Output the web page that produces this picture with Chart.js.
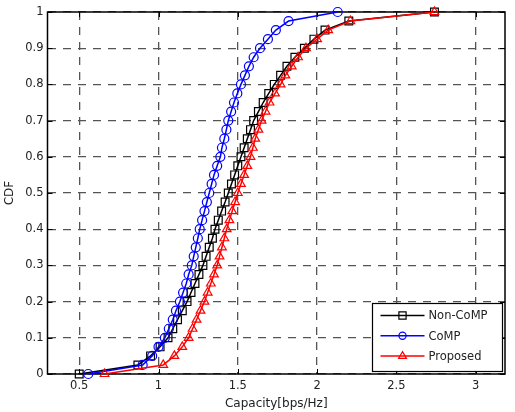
<!DOCTYPE html>
<html>
<head>
<meta charset="utf-8">
<script src="https://cdn.jsdelivr.net/npm/chart.js@4"></script>
<style>
  body { margin: 0; background: white; }
</style>
</head>
<body>
<canvas id="cdfChart" width="515" height="412"></canvas>
<script>
// cdf levels (same for every curve, 41 points)
const cdfLevels = [0, 0.025, 0.05, 0.075, 0.1, 0.125, 0.15, 0.175, 0.2, 0.225, 0.25, 0.275, 0.3, 0.325, 0.35, 0.375,
    0.4, 0.425, 0.45, 0.475, 0.5, 0.525, 0.55, 0.575, 0.6, 0.625, 0.65, 0.675, 0.7, 0.725, 0.75, 0.775,
    0.8, 0.825, 0.85, 0.875, 0.9, 0.925, 0.95, 0.975, 1];

// capacity values
const nonComp = [0.50, 0.87, 0.95, 1.01, 1.06, 1.09, 1.12, 1.15, 1.18, 1.205, 1.23, 1.255, 1.28, 1.30, 1.32, 1.34,
    1.356, 1.377, 1.398, 1.42, 1.44, 1.46, 1.48, 1.50, 1.52, 1.54, 1.56, 1.58, 1.60, 1.63, 1.66, 1.695,
    1.73, 1.77, 1.81, 1.86, 1.92, 1.98, 2.05, 2.20, 2.74];
const comp = [0.557, 0.90, 0.96, 1.00, 1.04, 1.065, 1.09, 1.11, 1.135, 1.155, 1.175, 1.19, 1.21, 1.222, 1.235, 1.248,
    1.26, 1.275, 1.29, 1.305, 1.32, 1.335, 1.35, 1.37, 1.39, 1.40, 1.415, 1.428, 1.44, 1.458, 1.476, 1.497,
    1.52, 1.545, 1.57, 1.60, 1.64, 1.69, 1.74, 1.82, 2.13];
const proposed = [0.66, 1.03, 1.10, 1.15, 1.19, 1.215, 1.24, 1.265, 1.29, 1.31, 1.33, 1.35, 1.37, 1.385, 1.40, 1.415,
    1.43, 1.447, 1.465, 1.483, 1.50, 1.52, 1.54, 1.56, 1.58, 1.595, 1.61, 1.63, 1.65, 1.675, 1.70, 1.735,
    1.77, 1.80, 1.84, 1.88, 1.93, 2.00, 2.07, 2.21, 2.74];

const seriesNames = ['Non-CoMP', 'CoMP', 'Proposed'];
const xTicks = [0.5, 1, 1.5, 2, 2.5, 3];
const yTicks = [0, 0.1, 0.2, 0.3, 0.4, 0.5, 0.6, 0.7, 0.8, 0.9, 1];

const textColor = '#222';
const fontName = '"DejaVu Sans", sans-serif';

function toPoints(xs) {
    return xs.map((x, i) => ({ x: x, y: cdfLevels[i] }));
}

// little marker drawer for the legend
function marker(ctx, style, x, y, r) {
    ctx.beginPath();
    if (style === 'rect') {
        ctx.rect(x - r, y - r, 2 * r, 2 * r);
    } else if (style === 'circle') {
        ctx.arc(x, y, r, 0, Math.PI * 2);
    } else {
        ctx.moveTo(x, y - r);
        ctx.lineTo(x + r * 0.87, y + r * 0.5);
        ctx.lineTo(x - r * 0.87, y + r * 0.5);
        ctx.closePath();
    }
    ctx.stroke();
}

// matlab style box, inward ticks and legend
const matlabFrame = {
    id: 'matlabFrame',
    beforeDatasetsDraw(chart) {
        const ctx = chart.ctx;
        const a = chart.chartArea;
        const xs = chart.scales.x, ys = chart.scales.y;
        ctx.save();
        ctx.strokeStyle = '#000';
        ctx.lineWidth = 1;
        ctx.beginPath();
        xTicks.forEach(v => {
            const px = Math.round(xs.getPixelForValue(v)) + 0.5;
            ctx.moveTo(px, a.bottom); ctx.lineTo(px, a.bottom - 5);
            ctx.moveTo(px, a.top); ctx.lineTo(px, a.top + 5);
        });
        yTicks.forEach(v => {
            const py = Math.round(ys.getPixelForValue(v)) + 0.5;
            ctx.moveTo(a.left, py); ctx.lineTo(a.left + 5, py);
            ctx.moveTo(a.right, py); ctx.lineTo(a.right - 5, py);
        });
        ctx.stroke();
        ctx.lineWidth = 1.5;
        ctx.strokeRect(a.left, a.top, a.right - a.left, a.bottom - a.top);
        ctx.restore();
    },
    afterDraw(chart) {
        const ctx = chart.ctx;
        const a = chart.chartArea;
        const w = 130, h = 68;
        const bx = a.right - 2.5 - w, by = a.bottom - 2.5 - h;
        ctx.save();
        ctx.fillStyle = 'white';
        ctx.fillRect(bx, by, w, h);
        ctx.strokeStyle = '#000';
        ctx.lineWidth = 1.2;
        ctx.strokeRect(bx, by, w, h);
        ctx.font = '11.5px ' + fontName;
        ctx.textBaseline = 'middle';
        chart.data.datasets.forEach((ds, i) => {
            const y = by + 12 + i * 20.3;
            ctx.strokeStyle = ds.borderColor;
            ctx.lineWidth = ds.borderWidth;
            ctx.beginPath();
            ctx.moveTo(bx + 8, y); ctx.lineTo(bx + 52, y);
            ctx.stroke();
            ctx.lineWidth = 1.2;
            marker(ctx, ds.pointStyle, bx + 30, y, ds.pointStyle === 'triangle' ? 4.5 : 3.6);
            ctx.fillStyle = textColor;
            ctx.fillText(ds.label, bx + 56, y + 1);
        });
        ctx.restore();
    }
};

function makeSeries(name, xs, color, style, radius, order) {
    return {
        label: name,
        data: toPoints(xs),
        showLine: true,
        borderColor: color,
        backgroundColor: 'rgba(0,0,0,0)',
        borderWidth: 1.5,
        pointStyle: style,
        pointRadius: radius,
        pointBorderWidth: 1.2,
        pointBorderColor: color,
        pointBackgroundColor: 'rgba(0,0,0,0)',
        clip: false,
        order: order
    };
}

const ctx = document.getElementById('cdfChart').getContext('2d');
new Chart(ctx, {
    type: 'scatter',
    data: {
        datasets: [
            makeSeries(seriesNames[0], nonComp, '#000000', 'rect', 5.5, 3),
            makeSeries(seriesNames[1], comp, '#0000ff', 'circle', 4.5, 2),
            makeSeries(seriesNames[2], proposed, '#ff0000', 'triangle', 5, 1)
        ]
    },
    plugins: [matlabFrame],
    options: {
        responsive: false,
        animation: false,
        devicePixelRatio: 1,
        layout: { padding: { top: 12, right: 10, left: 0, bottom: 0 } },
        plugins: {
            legend: { display: false },
            tooltip: { enabled: false }
        },
        scales: {
            x: {
                type: 'linear',
                min: 0.3,
                max: 3.185,
                afterBuildTicks: s => { s.ticks = xTicks.map(v => ({ value: v })); },
                afterFit: s => { s.height = 38; },
                ticks: {
                    color: textColor,
                    padding: 5,
                    maxRotation: 0,
                    font: { family: fontName, size: 11.5 },
                    callback: v => String(v)
                },
                grid: { color: '#555', lineWidth: 1.3, drawTicks: false },
                border: { display: false, dash: [8, 7] },
                title: {
                    display: true,
                    text: 'Capacity[bps/Hz]',
                    color: textColor,
                    font: { family: fontName, size: 12 },
                    padding: { top: 0, bottom: 1 }
                }
            },
            y: {
                type: 'linear',
                min: 0,
                max: 1,
                afterBuildTicks: s => { s.ticks = yTicks.map(v => ({ value: v })); },
                afterFit: s => { s.width = 47.5; },
                ticks: {
                    color: textColor,
                    padding: 4,
                    font: { family: fontName, size: 11.5 },
                    callback: v => String(v)
                },
                grid: { color: '#555', lineWidth: 1.3, drawTicks: false },
                border: { display: false, dash: [8, 7] },
                title: {
                    display: true,
                    text: 'CDF',
                    color: textColor,
                    font: { family: fontName, size: 12 },
                    padding: { top: 3, bottom: 0 }
                }
            }
        }
    }
});
</script>
</body>
</html>
